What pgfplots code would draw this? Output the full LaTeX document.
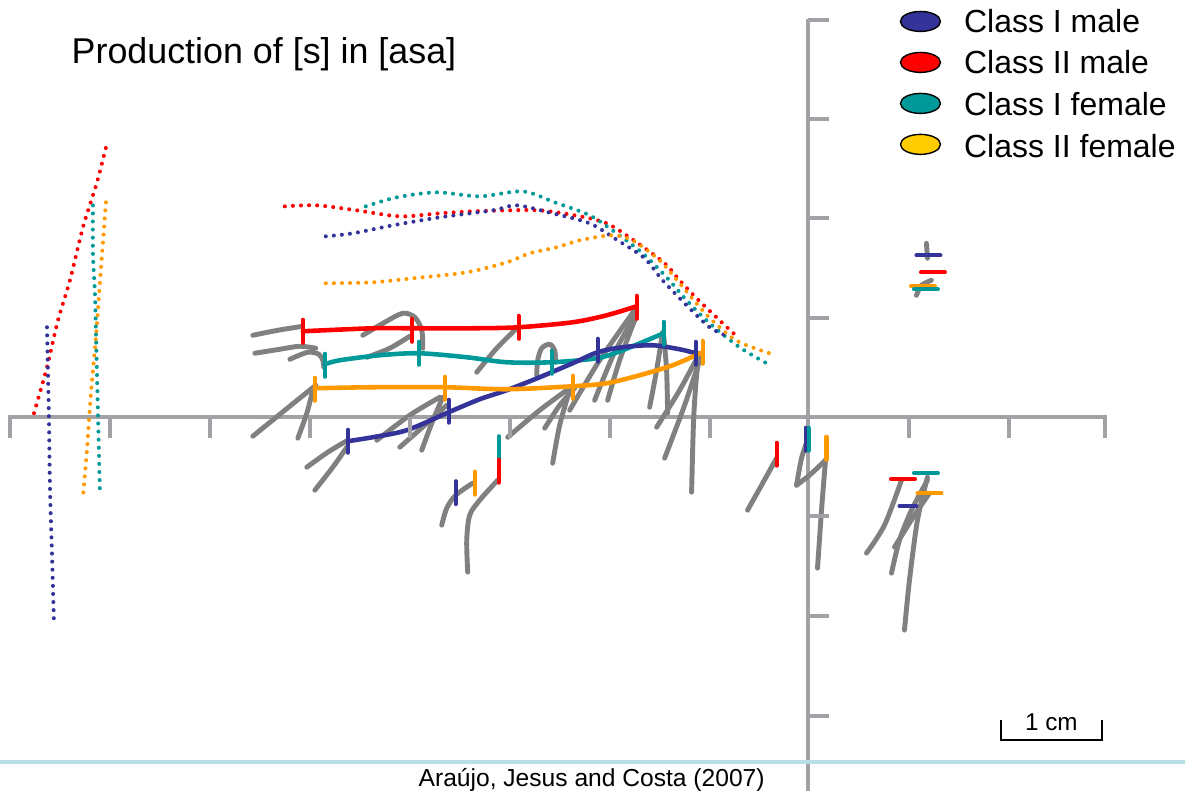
\documentclass[border=0pt]{standalone}
\usepackage{pgfplots}
\pgfplotsset{compat=1.18}
\usepackage{fontspec}
\setmainfont{Liberation Sans}

\definecolor{clsIm}{RGB}{51,51,153}
\definecolor{clsIIm}{RGB}{255,0,0}
\definecolor{clsIf}{RGB}{0,153,153}
\definecolor{clsIIf}{RGB}{255,153,0}
\definecolor{clsIIfkey}{RGB}{255,204,0}
\definecolor{trace}{RGB}{128,128,128}
\definecolor{axisgray}{RGB}{162,162,166}
\definecolor{rule}{RGB}{186,222,229}

\tikzset{
  trace/.style={draw=trace, line width=1.4pt, line cap=round, line join=round, smooth},
  formant/.style={line width=1.15pt, line cap=round, dash pattern=on 0pt off 2.3pt, smooth},
  contour/.style={line width=1.3pt, line cap=round, smooth},
  vbar/.style={only marks, mark=|, mark size=1.15mm, mark options={line width=1.15pt, line cap=round}},
  hbar/.style={only marks, mark=-, mark size=1.2mm, mark options={line width=1.15pt, line cap=round}},
}

\begin{document}
\begin{tikzpicture}
% the drawing area: 1 unit = 0.1 mm
\useasboundingbox (0,0) rectangle (11.86,7.91);
\begin{axis}[
  at={(0,0)}, anchor=south west,
  x=0.01cm, y=0.01cm, y dir=reverse,
  xmin=0, xmax=1186, ymin=0, ymax=791,
  hide axis, scale only axis, clip=false,
]
% reference axes
\addplot[axisgray, line width=1.15pt] coordinates {(8,417) (1108,417)};
\addplot[axisgray, line width=1.15pt] coordinates {(808,19) (808,791)};
\addplot[axisgray, only marks, mark=|, mark size=1.05mm, mark options={line width=1.15pt}]
  coordinates {(10,427.5) (110,427.5) (210,427.5) (310,427.5) (410,427.5) (510,427.5)
               (610,427.5) (710,427.5) (910,427.5) (1010,427.5) (1106,427.5)};
\addplot[axisgray, only marks, mark=-, mark size=1.05mm, mark options={line width=1.15pt}]
  coordinates {(818.5,20) (818.5,119) (818.5,218) (818.5,318) (818.5,516) (818.5,616) (818.5,716)};

% formant-like trajectories (dotted)
\addplot[formant, clsIIm] coordinates {(34,413) (47,367) (58,320) (70,280) (83,227) (97,182) (107,143)};
\addplot[formant, clsIIf] coordinates {(106,202) (103,242) (100,282) (96,337) (91,393) (87,450) (83,497)};
\addplot[formant, clsIf] coordinates {(93,205) (93,253) (95,293) (96,333) (97,373) (98,413) (99,453) (100,493)};
\addplot[formant, clsIm] coordinates {(47,327) (48,373) (49,420) (50,487) (52,553) (54,623)};

\addplot[formant, clsIIm] coordinates {(285,206) (317,205) (357,210) (400,216) (440,213) (473,211)
  (507,210) (540,210) (575,215) (607,223) (637,242) (665,263) (680,280) (697,298) (720,320) (735,334)};
\addplot[formant, clsIf] coordinates {(366,206) (397,197) (437,192) (480,196) (523,191) (555,202)
  (590,215) (617,233) (643,253) (667,277) (687,300) (710,323) (740,347) (767,363)};
\addplot[formant, clsIm] coordinates {(326,236) (353,233) (393,225) (440,217) (493,210) (517,205)
  (553,213) (590,223) (618,240) (645,258) (663,280) (687,305) (710,327) (728,336)};
\addplot[formant, clsIIf] coordinates {(326,283) (373,282) (413,278) (467,272) (507,262) (530,253)
  (557,247) (580,240) (612,235) (633,240) (660,260) (680,283) (703,310) (720,327) (740,342) (773,354)};

% tracings
\addplot[trace] coordinates {(253,335) (278,330) (303,326)};
\addplot[trace] coordinates {(255,353) (280,349) (300,346) (316,348)};
\addplot[trace] coordinates {(290,359) (308,352) (319,354) (323,360) (324,367)};
\addplot[trace] coordinates {(253,436) (285,410) (316,385)};
\addplot[trace] coordinates {(313,390) (307,413) (298,438)};
\addplot[trace] coordinates {(307,467) (328,452) (348,440)};
\addplot[trace] coordinates {(315,490) (333,467) (347,447)};
\addplot[trace] coordinates {(363,335) (385,322) (403,313) (415,317) (422,330) (423,348)};
\addplot[trace] coordinates {(367,357) (390,348) (410,336)};
\addplot[trace] coordinates {(377,440) (410,415) (440,397)};
\addplot[trace] coordinates {(400,447) (425,425) (447,405)};
\addplot[trace] coordinates {(422,450) (432,423) (443,397)};
\addplot[trace] coordinates {(477,372) (497,348) (518,327)};
\addplot[trace] coordinates {(537,375) (538,360) (542,348) (550,344) (555,350) (556,362)};
\addplot[trace] coordinates {(508,437) (540,410) (567,390)};
\addplot[trace] coordinates {(553,463) (560,425) (570,390)};
\addplot[trace] coordinates {(545,428) (560,405) (575,388)};
\addplot[trace] coordinates {(570,410) (600,360) (637,307)};
\addplot[trace] coordinates {(595,400) (615,352) (637,313)};
\addplot[trace] coordinates {(608,400) (620,360) (635,320)};
\addplot[trace] coordinates {(650,407) (657,370) (663,332)};
\addplot[trace] coordinates {(664,335) (667,370) (668,413)};
\addplot[trace] coordinates {(657,427) (680,390) (700,353)};
\addplot[trace] coordinates {(665,458) (685,405) (700,360)};
\addplot[trace] coordinates {(692,492) (694,420) (697,375) (700,355)};
\addplot[trace] coordinates {(442,525) (447,508) (456,495) (473,483)};
\addplot[trace] coordinates {(468,572) (467,540) (470,515) (480,500) (498,480)};
\addplot[trace] coordinates {(748,510) (762,485) (777,458)};
\addplot[trace] coordinates {(808,440) (802,458) (797,485)};
\addplot[trace] coordinates {(797,485) (810,475) (826,460)};
\addplot[trace] coordinates {(818,568) (822,510) (826,460)};
\addplot[trace] coordinates {(867,553) (885,525) (902,480)};
\addplot[trace] coordinates {(892,573) (900,540) (912,510) (928,480)};
\addplot[trace] coordinates {(905,630) (910,580) (918,520) (928,477)};
\addplot[trace] coordinates {(895,547) (915,515) (930,493)};
\addplot[trace] coordinates {(927,243) (928,258)};
\addplot[trace] coordinates {(917,295) (922,285) (932,280)};

% contours of the four speaker groups
\addplot[contour, clsIIm] coordinates {(303,331) (373,328) (412,328) (473,328) (519,327) (573,322) (607,315) (637,306)};
\addplot[contour, clsIf] coordinates {(325,364) (340,360) (380,355) (419,353) (467,357) (507,362) (552,362) (597,358) (623,350) (664,333)};
\addplot[contour, clsIm] coordinates {(348,441) (373,437) (407,430) (449,412) (480,399) (507,390) (540,377) (573,363) (598,352) (623,347) (653,345) (680,349) (696,353)};
\addplot[contour, clsIIf] coordinates {(315,388) (373,387) (445,387) (507,389) (573,386) (607,383) (640,375) (673,365) (703,352)};

% measurement points
\addplot[vbar, clsIIm] coordinates {(303,331) (412,330) (519,327) (637,307)};
\addplot[vbar, clsIf] coordinates {(325,365) (419,353) (552,362) (664,333)};
\addplot[vbar, clsIm] coordinates {(348,441) (449,411) (598,350) (696,353)};
\addplot[vbar, clsIIf] coordinates {(315,389) (445,388) (573,387) (703,352)};

\addplot[vbar, clsIm] coordinates {(456,492.5) (806,439)};
\addplot[vbar, clsIIf] coordinates {(475,483) (827,448)};
\addplot[vbar, clsIf] coordinates {(499,447.5) (809,439)};
\addplot[vbar, clsIIm] coordinates {(499,471) (777,454)};

\addplot[hbar, clsIm] coordinates {(929,255)};
\addplot[hbar, clsIIm] coordinates {(933.5,272) (903.5,479)};
\addplot[hbar, clsIIf] coordinates {(923.5,286) (930,493)};
\addplot[hbar, clsIf] coordinates {(926.5,289) (926.5,473)};
\addplot[only marks, mark=-, mark size=0.85mm, mark options={line width=1.15pt, line cap=round}, clsIm] coordinates {(908.5,506)};

% baseline rule
\addplot[rule, line width=1.4pt] coordinates {(0,762) (1186,762)};

% scale bar
\addplot[black, line width=0.6pt] coordinates {(1002,720) (1002,740) (1103,740) (1103,720)};

% key
\addplot[only marks, mark=*, mark size=1mm, mark options={xscale=2, fill=clsIm, draw=black, line width=0.4pt}] coordinates {(921,21)};
\addplot[only marks, mark=*, mark size=1mm, mark options={xscale=2, fill=clsIIm, draw=black, line width=0.4pt}] coordinates {(921,62)};
\addplot[only marks, mark=*, mark size=1mm, mark options={xscale=2, fill=clsIf, draw=black, line width=0.4pt}] coordinates {(921,103)};
\addplot[only marks, mark=*, mark size=1mm, mark options={xscale=2, fill=clsIIfkey, draw=black, line width=0.4pt}] coordinates {(921,144)};

\node[anchor=base west, inner sep=0pt, font=\fontsize{9.1}{11}\selectfont] at (axis cs:964,32) {Class I male};
\node[anchor=base west, inner sep=0pt, font=\fontsize{9.1}{11}\selectfont] at (axis cs:964,73) {Class II male};
\node[anchor=base west, inner sep=0pt, font=\fontsize{9.1}{11}\selectfont] at (axis cs:964,115) {Class I female};
\node[anchor=base west, inner sep=0pt, font=\fontsize{9.1}{11}\selectfont] at (axis cs:964,157) {Class II female};

\node[anchor=base west, inner sep=0pt, font=\fontsize{10.2}{12}\selectfont] at (axis cs:71,63) {Production of [s] in [asa]};
\node[anchor=base, inner sep=0pt, font=\fontsize{7}{8}\selectfont] at (axis cs:592,786) {Araújo, Jesus and Costa (2007)};
\node[anchor=base, inner sep=0pt, font=\fontsize{6.9}{8}\selectfont] at (axis cs:1052,730) {1 cm};
\end{axis}
\end{tikzpicture}
\end{document}
